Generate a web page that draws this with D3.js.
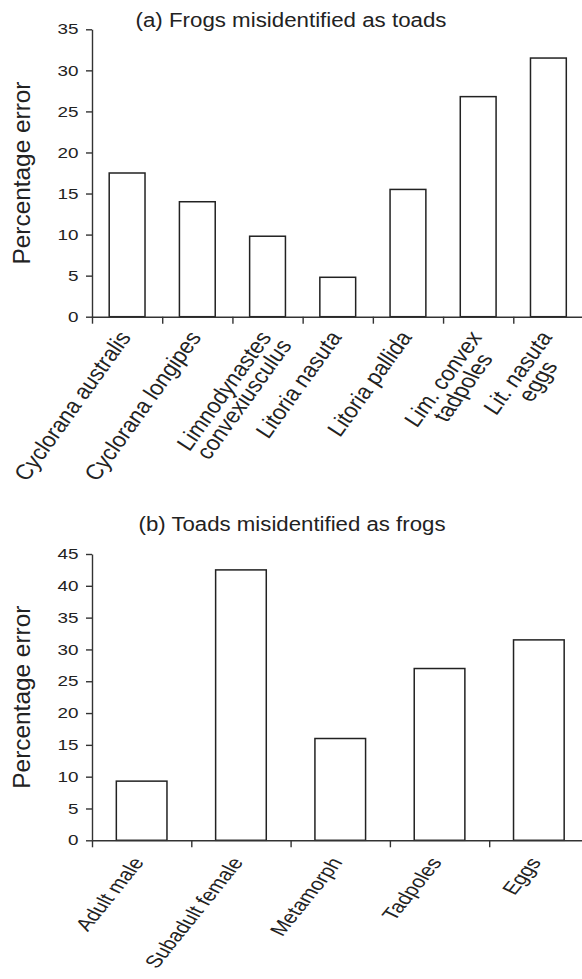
<!DOCTYPE html>
<html>
<head>
<meta charset="utf-8">
<script src="https://cdn.jsdelivr.net/npm/d3@7"></script>
<style>
  body { margin: 0; background: #fff; }
  svg { display: block; font-family: "Liberation Sans", Arial, sans-serif; }
  .tick line, .domain { stroke: #333; stroke-width: 1.4; }
  text { fill: #222; }
</style>
</head>
<body>
<div class="chart"></div>
<script>
// ---- data ----
var frogCats = [
  ["Cyclorana australis"],
  ["Cyclorana longipes"],
  ["Limnodynastes", "convexiusculus"],
  ["Litoria nasuta"],
  ["Litoria pallida"],
  ["Lim. convex", "tadpoles"],
  ["Lit. nasuta", "eggs"]
];
var frogUpright = ["tadpoles", "eggs"];   // lines not set in italics
var frogValues = [17.5, 14.0, 9.8, 4.8, 15.5, 26.8, 31.5];
var frogTicks = [0, 5, 10, 15, 20, 25, 30, 35];

var toadCats = ["Adult male", "Subadult female", "Metamorph", "Tadpoles", "Eggs"];
var toadValues = [9.3, 42.5, 16.0, 27.0, 31.5];
var toadTicks = [0, 5, 10, 15, 20, 25, 30, 35, 40, 45];

var svgWidth = 582;
var svgHeight = 979;
var stretch = 1.3; // text in the figure is drawn wide

var svg = d3.select(".chart")
  .append("svg")
  .attr("width", svgWidth)
  .attr("height", svgHeight);

function drawPanel(opt) {
  var g = svg.append("g");
  var n = opt.cats.length;

  var x = d3.scaleBand()
    .domain(d3.range(n))
    .range([opt.left, opt.right])
    .paddingInner(0.49)
    .paddingOuter(0.245);

  // boundaries between categories, for the x ticks
  var xEdge = d3.scaleLinear().domain([0, n]).range([opt.left, opt.right]);

  var y = d3.scaleLinear()
    .domain([0, opt.ticks[opt.ticks.length - 1]])
    .range([opt.bottom, opt.top]);

  // title
  g.append("text")
    .attr("x", opt.titleX)
    .attr("y", opt.titleY)
    .attr("text-anchor", "middle")
    .attr("font-size", 20)
    .attr("textLength", opt.titleLen)
    .attr("lengthAdjust", "spacingAndGlyphs")
    .text(opt.title);

  // y label
  g.append("text")
    .attr("transform", `translate(30, ${(opt.top + opt.bottom) / 2}) rotate(-90)`)
    .attr("text-anchor", "middle")
    .attr("font-size", 23)
    .attr("textLength", 183)
    .attr("lengthAdjust", "spacingAndGlyphs")
    .text("Percentage error");

  // bars
  g.selectAll("rect.bar")
    .data(opt.values)
    .enter()
    .append("rect")
    .attr("class", "bar")
    .attr("x", (d, i) => x(i))
    .attr("width", x.bandwidth())
    .attr("y", d => y(d))
    .attr("height", d => y(0) - y(d))
    .attr("fill", "#fff")
    .attr("stroke", "#222")
    .attr("stroke-width", 1.5);

  // y axis
  var leftAxis = d3.axisLeft(y)
    .tickValues(opt.ticks)
    .tickSize(6)
    .tickSizeOuter(0)
    .tickPadding(4.5);
  var ya = g.append("g")
    .attr("transform", `translate(${opt.left},0)`)
    .call(leftAxis);
  ya.selectAll("text")
    .attr("font-size", 14.5)
    .attr("font-family", "Liberation Sans, Arial, sans-serif")
    .attr("fill", "#222")
    .attr("transform", `scale(${stretch},1)`);

  // x axis
  var bottomAxis = d3.axisBottom(xEdge)
    .tickValues(d3.range(n + 1))
    .tickFormat("")
    .tickSize(7)
    .tickSizeOuter(0);
  g.append("g")
    .attr("transform", `translate(0,${opt.bottom})`)
    .call(bottomAxis);

  // category labels
  opt.cats.forEach(function (lines, i) {
    if (typeof lines === "string") lines = [lines];
    var cx = x(i) + x.bandwidth() / 2;
    var lg = g.append("g")
      .attr("transform", `translate(${cx + opt.labDx}, ${opt.bottom + opt.labDy}) scale(${stretch},1) rotate(${-opt.angle})`);
    var first = lg.append("text")
      .attr("text-anchor", "end")
      .attr("font-size", opt.labSize)
      .attr("font-style", opt.italic && frogUpright.indexOf(lines[0]) < 0 ? "italic" : "normal")
      .text(lines[0]);
    if (lines.length > 1) {
      var w = first.node().getComputedTextLength();
      lg.append("text")
        .attr("text-anchor", "middle")
        .attr("x", -w / 2)
        .attr("y", opt.labSize * 0.9)
        .attr("font-size", opt.labSize)
        .attr("font-style", opt.italic && frogUpright.indexOf(lines[1]) < 0 ? "italic" : "normal")
        .text(lines[1]);
    }
  });
}

drawPanel({
  title: "(a) Frogs misidentified as toads",
  titleX: 291, titleY: 26.5, titleLen: 311,
  cats: frogCats, values: frogValues, ticks: frogTicks,
  left: 92, right: 583.5, top: 29.3, bottom: 316.7,
  labDx: 5, labDy: 20, angle: 61, labSize: 19.5, italic: true
});

drawPanel({
  title: "(b) Toads misidentified as frogs",
  titleX: 292, titleY: 530.5, titleLen: 307,
  cats: toadCats, values: toadValues, ticks: toadTicks,
  left: 92, right: 588.5, top: 554, bottom: 840.3,
  labDx: 3, labDy: 22, angle: 58, labSize: 17.5, italic: false
});
</script>
</body>
</html>
